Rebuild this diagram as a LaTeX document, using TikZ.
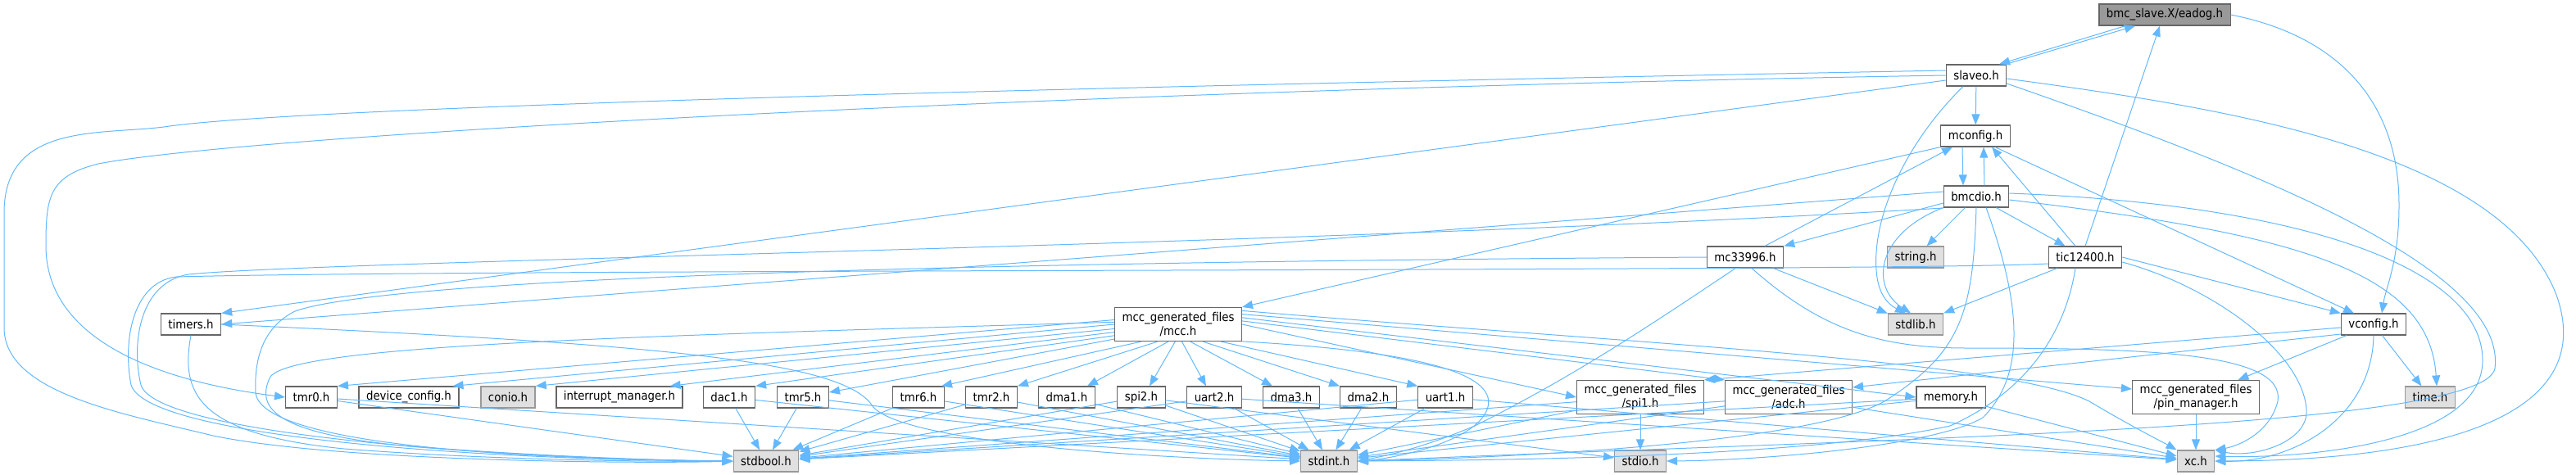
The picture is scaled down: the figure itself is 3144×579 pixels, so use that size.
\documentclass[tikz,border=0pt]{standalone}
\usepackage{fontspec}
\setmainfont{DejaVu Sans Condensed}
\usetikzlibrary{arrows.meta,positioning}
\definecolor{edgeblue}{HTML}{63B8FF}
\definecolor{boxline}{HTML}{666666}
\definecolor{sysfill}{HTML}{E0E0E0}
\definecolor{sysline}{HTML}{999999}
\definecolor{rootfill}{HTML}{999999}
\tikzset{
  file/.style={draw=boxline, fill=white, line width=0.6pt, minimum height=13pt,
    inner xsep=4.5pt, inner ysep=1pt, align=center, font=\fontsize{7.4}{8.4}\selectfont},
  twoline/.style={file, minimum height=20.5pt},
  sysfile/.style={file, draw=sysline, fill=sysfill},
  rootfile/.style={file, fill=rootfill, draw=boxline},
  dep/.style={draw=edgeblue, line width=0.5pt, -{Triangle[length=6.5pt,width=5pt]}},
}
\begin{document}
\begin{tikzpicture}[x=0.5pt,y=-0.5pt]
\useasboundingbox (0,0) rectangle (3144,579);
% upper part
\node[rootfile] (eadog) at (2642,18) {bmc\_slave.X/eadog.h};
\node[file] (slaveo) at (2412,92) {slaveo.h};
\node[file] (mconfig) at (2411,166) {mconfig.h};
\node[file] (bmcdio) at (2412,240) {bmcdio.h};
\node[file] (mcthree) at (2130,314) {mc33996.h};
\node[sysfile] (stringh) at (2338,314) {string.h};
\node[file] (tic) at (2545,314) {tic12400.h};
\node[file] (timers) at (233,396) {timers.h};
\node[sysfile] (stdlib) at (2338,396) {stdlib.h};
\node[file] (vconfig) at (2897,396) {vconfig.h};
\node[twoline] (mcc) at (1438,396) {mcc\_generated\_files\\/mcc.h};
% middle row
\node[file] (tmrzero) at (380,485) {tmr0.h};
\node[file] (devcfg) at (499,485) {device\_config.h};
\node[sysfile] (conio) at (620,485) {conio.h};
\node[file] (intmgr) at (756,485) {interrupt\_manager.h};
\node[file] (dac) at (890,485) {dac1.h};
\node[file] (tmrfive) at (980,485) {tmr5.h};
\node[file] (tmrsix) at (1121,485) {tmr6.h};
\node[file] (tmrtwo) at (1210,485) {tmr2.h};
\node[file] (dmaone) at (1302,485) {dma1.h};
\node[file] (spitwo) at (1393,485) {spi2.h};
\node[file] (uarttwo) at (1482,485) {uart2.h};
\node[file] (dmathree) at (1576,485) {dma3.h};
\node[file] (dmatwo) at (1670,485) {dma2.h};
\node[file] (uartone) at (1764,485) {uart1.h};
\node[twoline] (spione) at (2002,485) {mcc\_generated\_files\\/spi1.h};
\node[twoline] (adc) at (2183,485) {mcc\_generated\_files\\/adc.h};
\node[file] (memory) at (2381,485) {memory.h};
\node[twoline] (pinmgr) at (2680,485) {mcc\_generated\_files\\/pin\_manager.h};
\node[sysfile] (timeh) at (2966,485) {time.h};
% bottom row
\node[sysfile] (stdbool) at (935,563) {stdbool.h};
\node[sysfile] (stdint) at (1622,563) {stdint.h};
\node[sysfile] (stdio) at (2002,563) {stdio.h};
\node[sysfile] (xch) at (2680,563) {xc.h};

% eadog.h and slaveo.h
\draw[dep] ([xshift=-24pt]eadog.south) -- ([xshift=14pt]slaveo.north);
\draw[dep] ([xshift=18pt]slaveo.north) -- ([xshift=-18pt]eadog.south);
\draw[dep] (eadog.east) .. controls (2860,45) and (2928,130) .. (2928,250) .. controls (2928,320) and (2912,350) .. ([xshift=5pt]vconfig.north);
\draw[dep] (tic.north) -- ([xshift=-3pt]eadog.south);
\draw[dep] (slaveo) -- (mconfig);
\draw[dep] ([xshift=-8pt]slaveo.south) .. controls (2330,170) and (2285,260) .. (2290,330) .. controls (2292,360) and (2305,372) .. ([xshift=-6pt]stdlib.north);
\draw[dep] ([yshift=-2pt]slaveo.east) .. controls (2700,130) and (3050,180) .. (3120,360) .. controls (3170,500) and (3000,562) .. (xch.east);
\draw[dep] ([yshift=-5pt]slaveo.east) .. controls (2760,210) and (3060,330) .. (3045,450) .. controls (3030,525) and (2300,535) .. (stdint.east);
\draw[dep] ([yshift=-3pt]slaveo.west) -- (timers.north east);
\draw[dep] (slaveo.west) .. controls (1300,110) and (300,165) .. (120,200) .. controls (60,215) and (56,240) .. (56,300) .. controls (56,430) and (230,470) .. (tmrzero.west);
\draw[dep] ([yshift=3pt]slaveo.west) .. controls (1000,112) and (330,135) .. (200,155) .. controls (120,165) and (5,150) .. (5,260) -- (5,400) .. controls (5,480) and (150,505) .. (260,532) .. controls (420,565) and (800,566) .. (stdbool.west);

% mconfig.h, bmcdio.h
\draw[dep] ([xshift=-8pt]mconfig.south) -- ([xshift=-8pt]bmcdio.north);
\draw[dep] ([xshift=5pt]bmcdio.north) -- ([xshift=5pt]mconfig.south);
\draw[dep] ([xshift=12pt]mconfig.south) -- ([xshift=-12pt]vconfig.north);
\draw[dep] (mconfig.south west) -- (mcc.north east);
\draw[dep] ([xshift=12pt]mcthree.north) -- ([xshift=-14pt]mconfig.south);
\draw[dep] ([xshift=-6pt]tic.north) -- ([xshift=10pt]mconfig.south);
\draw[dep] ([yshift=-4pt]bmcdio.west) -- (mcthree.north east);
\draw[dep] (bmcdio) -- (stringh);
\draw[dep] (bmcdio.south west) .. controls (2290,285) and (2282,350) .. ([xshift=-3pt]stdlib.north);
\draw[dep] (bmcdio) -- (tic);
\draw[dep] ([yshift=-2pt]bmcdio.east) .. controls (2800,285) and (2965,330) .. ([xshift=4pt]timeh.north);
\draw[dep] ([yshift=2pt]bmcdio.east) .. controls (2820,250) and (3030,330) .. (3030,440) .. controls (3030,540) and (2820,560) .. ([yshift=3pt]xch.east);
\draw[dep] (bmcdio.south) .. controls (2408,380) and (2395,430) .. (2300,490) .. controls (2200,545) and (1800,560) .. (stdint.east);
\draw[dep] ([xshift=6pt]bmcdio.south) .. controls (2470,380) and (2470,460) .. (2420,510) .. controls (2360,545) and (2150,562) .. (stdio.east);
\draw[dep] ([yshift=3pt]bmcdio.west) -- (timers.east);
\draw[dep] ([yshift=-7pt]bmcdio.west) .. controls (1600,300) and (400,318) .. (230,335) .. controls (170,345) and (160,420) .. (172,470) .. controls (190,530) and (600,560) .. (stdbool.west);

% tic12400.h, mc33996.h
\draw[dep] (tic.east) -- (vconfig.north west);
\draw[dep] (tic) -- (stdlib);
\draw[dep] ([yshift=-3pt]tic.east) .. controls (2700,350) and (2810,430) .. (2815,500) .. controls (2818,540) and (2750,560) .. (xch.north east);
\draw[dep] ([xshift=-6pt]tic.south) .. controls (2520,410) and (2470,480) .. (2380,520) .. controls (2200,560) and (1800,562) .. (stdint.east);
\draw[dep] ([yshift=-4pt]tic.west) .. controls (2300,332) and (600,328) .. (215,338) .. controls (160,345) and (150,420) .. (160,470) .. controls (180,535) and (600,562) .. (stdbool.west);
\draw[dep] (mcthree) -- (stdlib);
\draw[dep] ([xshift=4pt]mcthree.south) .. controls (2220,400) and (2290,425) .. (2400,425) .. controls (2620,425) and (2790,430) .. (2780,490) .. controls (2770,530) and (2730,545) .. (xch.north east);
\draw[dep] ([xshift=-6pt]mcthree.south) .. controls (2010,400) and (1920,460) .. (1800,520) .. controls (1740,545) and (1700,555) .. (stdint.east);
\draw[dep] (mcthree.west) .. controls (1500,318) and (500,330) .. (360,380) .. controls (320,400) and (310,440) .. (312,480) .. controls (320,540) and (600,560) .. (stdbool.west);

% vconfig.h
\draw[dep] ([yshift=-2pt]vconfig.west) -- (spione.north east);
\draw[dep] ([yshift=-6pt]vconfig.west) -- ([yshift=6pt]adc.east);
\draw[dep] (vconfig) -- (pinmgr);
\draw[dep] (vconfig) -- (timeh);
\draw[dep] (vconfig.south) .. controls (2895,510) and (2800,565) .. (xch.east);

% mcc.h
\draw[dep] (mcc.178) .. controls (800,410) and (360,420) .. (330,460) .. controls (310,500) and (340,530) .. (500,545) .. controls (700,560) and (850,563) .. (stdbool.west);
\draw[dep] (mcc.176) -- (tmrzero.north east);
\draw[dep] (mcc.180) -- ([xshift=-4pt]devcfg.north east);
\draw[dep] (mcc.184) -- (conio.north east);
\draw[dep] (mcc.187) -- ([xshift=-8pt]intmgr.north east);
\draw[dep] (mcc.190) -- (dac.north east);
\draw[dep] (mcc.193) -- ([yshift=3pt]tmrfive.east);
\draw[dep] (mcc.205) -- ([xshift=-2pt]tmrsix.north east);
\draw[dep] (mcc.220) -- (tmrtwo.north east);
\draw[dep] (mcc.240) -- ([xshift=-5pt]dmaone.north east);
\draw[dep] (mcc.260) -- ([xshift=5pt]spitwo.north);
\draw[dep] (mcc.282) -- ([xshift=-5pt]uarttwo.north);
\draw[dep] (mcc.305) -- ([xshift=6pt]dmathree.north west);
\draw[dep] (mcc.325) -- (dmatwo.north west);
\draw[dep] (mcc.338) -- (uartone.north west);
\draw[dep] (mcc.345) .. controls (1750,430) and (1830,460) .. (1815,500) .. controls (1800,540) and (1700,560) .. (stdint.east);
\draw[dep] (mcc.0) -- (spione.west);
\draw[dep] (mcc.3) -- (adc.north west);
\draw[dep] (mcc.6) -- (memory.west);
\draw[dep] (mcc.9) -- ([yshift=5pt]pinmgr.west);
\draw[dep] (mcc.12) .. controls (2000,420) and (2450,440) .. (2550,490) .. controls (2600,520) and (2640,540) .. (xch.north west);

% leaf headers
\draw[dep] (timers.south) .. controls (220,480) and (240,530) .. (420,548) .. controls (600,562) and (800,564) .. (stdbool.west);
\draw[dep] (timers.east) .. controls (800,420) and (1030,440) .. (1065,496) .. controls (1100,540) and (1400,560) .. (stdint.west);
\foreach \src in {tmrzero,dac,tmrfive,tmrsix,tmrtwo,spitwo,uarttwo,uartone,spione,adc,memory}
  \draw[dep] (\src) -- (stdbool);
\foreach \src in {tmrzero,dac,tmrfive,tmrsix,tmrtwo,dmaone,spitwo,uarttwo,dmathree,dmatwo,uartone,spione,adc,memory}
  \draw[dep] (\src) -- (stdint);
\foreach \src in {uarttwo,uartone,adc,memory,pinmgr}
  \draw[dep] (\src) -- (xch);
\draw[dep] (spitwo) -- (stdio);
\draw[dep] (spione) -- (stdio);
\end{tikzpicture}
\end{document}
